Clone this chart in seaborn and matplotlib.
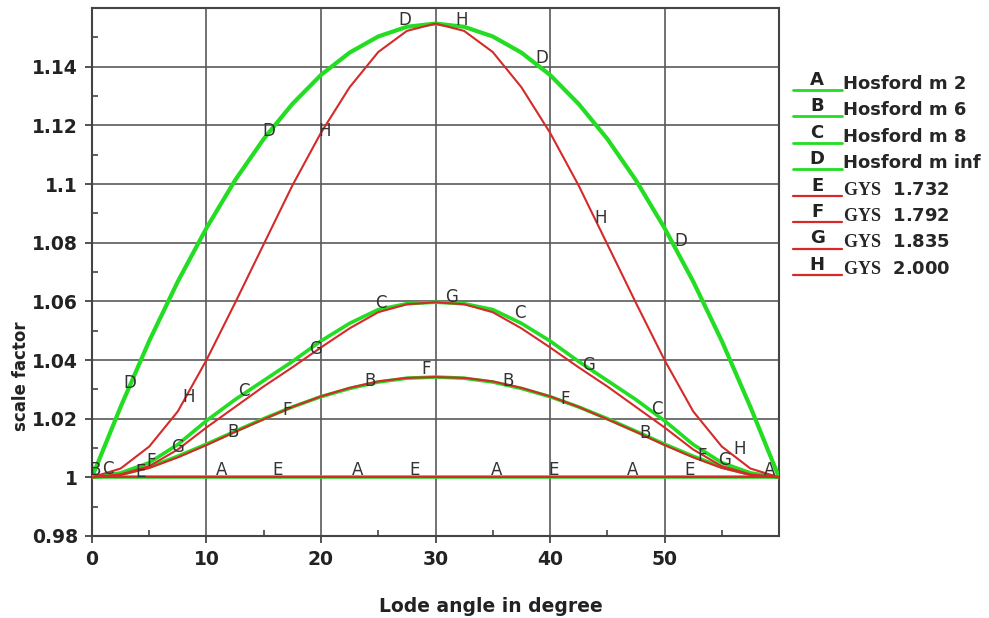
import numpy as np
import pandas as pd
import matplotlib
matplotlib.use('Agg')
import matplotlib.pyplot as plt
import seaborn as sns
from matplotlib.lines import Line2D
from matplotlib.text import Text
from matplotlib.ticker import FixedLocator, FuncFormatter

print("--- Generando gráfico de factor de escala ---")

# --- DATOS (cada 2.5 grados) ---
angulo = [0, 2.5, 5, 7.5, 10, 12.5, 15, 17.5, 20, 22.5, 25, 27.5, 30,
          32.5, 35, 37.5, 40, 42.5, 45, 47.5, 50, 52.5, 55, 57.5, 60]

hosford_m2 = [1.0, 1.0, 1.0, 1.0, 1.0, 1.0, 1.0, 1.0, 1.0, 1.0, 1.0, 1.0, 1.0,
              1.0, 1.0, 1.0, 1.0, 1.0, 1.0, 1.0, 1.0, 1.0, 1.0, 1.0, 1.0]
hosford_m6 = [1.000, 1.001, 1.0035, 1.0072, 1.0113, 1.0157, 1.0200, 1.0240, 1.0275, 1.0303, 1.0325, 1.0338, 1.0342,
              1.0338, 1.0325, 1.0303, 1.0275, 1.0240, 1.0200, 1.0157, 1.0113, 1.0072, 1.0035, 1.001, 1.000]
hosford_m8 = [1.000, 1.0015, 1.005, 1.0112, 1.0193, 1.0265, 1.0330, 1.0395, 1.0465, 1.0525, 1.0572, 1.0592, 1.0597,
              1.0592, 1.0572, 1.0525, 1.0465, 1.0395, 1.0330, 1.0265, 1.0193, 1.0112, 1.005, 1.0015, 1.000]
hosford_inf = [1.000, 1.024, 1.0465, 1.0668, 1.085, 1.1013, 1.1154, 1.1273, 1.1372, 1.1448, 1.1503, 1.1536, 1.1547,
               1.1536, 1.1503, 1.1448, 1.1372, 1.1273, 1.1154, 1.1013, 1.085, 1.0668, 1.0465, 1.024, 1.000]

gys_1732 = [1.0, 1.0, 1.0, 1.0, 1.0, 1.0, 1.0, 1.0, 1.0, 1.0, 1.0, 1.0, 1.0,
            1.0, 1.0, 1.0, 1.0, 1.0, 1.0, 1.0, 1.0, 1.0, 1.0, 1.0, 1.0]
gys_1792 = [1.000, 1.0008, 1.0032, 1.0068, 1.0110, 1.0155, 1.0198, 1.0240, 1.0276, 1.0305, 1.0327, 1.0339, 1.0342,
            1.0339, 1.0327, 1.0305, 1.0276, 1.0240, 1.0198, 1.0155, 1.0110, 1.0068, 1.0032, 1.0008, 1.000]
gys_1835 = [1.000, 1.001, 1.0038, 1.0095, 1.0170, 1.0240, 1.0310, 1.0375, 1.0443, 1.0508, 1.0563, 1.0590, 1.0597,
            1.0590, 1.0563, 1.0508, 1.0443, 1.0375, 1.0310, 1.0240, 1.0170, 1.0095, 1.0038, 1.001, 1.000]
gys_2000 = [1.000, 1.003, 1.0105, 1.0225, 1.040, 1.0595, 1.0795, 1.0995, 1.1175, 1.133, 1.145, 1.1522, 1.1547,
            1.1522, 1.145, 1.133, 1.1175, 1.0995, 1.0795, 1.0595, 1.040, 1.0225, 1.0105, 1.003, 1.000]

# Posiciones de las letras (x, y) sobre cada curva
marcas_A = [(11.3, 1.0026), (23.2, 1.0026), (35.3, 1.0026), (47.2, 1.0026), (59.2, 1.0026)]
marcas_B = [(0.3, 1.0026), (12.3, 1.0153), (24.3, 1.033), (36.3, 1.033), (48.3, 1.015)]
marcas_C = [(1.4, 1.003), (13.3, 1.0293), (25.2, 1.0593), (37.4, 1.0559), (49.3, 1.0234)]
marcas_D = [(3.3, 1.032), (15.4, 1.1182), (27.3, 1.1558), (39.3, 1.143), (51.4, 1.0805)]
marcas_E = [(4.2, 1.0017), (16.2, 1.0026), (28.2, 1.0026), (40.3, 1.0026), (52.2, 1.0026)]
marcas_F = [(5.2, 1.0057), (17.0, 1.0228), (29.2, 1.037), (41.3, 1.0268), (53.3, 1.0074)]
marcas_G = [(7.5, 1.0103), (19.5, 1.0439), (31.4, 1.0615), (43.4, 1.0382), (55.2, 1.006)]
marcas_H = [(8.4, 1.0273), (20.3, 1.118), (32.3, 1.1558), (44.4, 1.0884), (56.6, 1.0098)]

letras = ['A', 'B', 'C', 'D', 'E', 'F', 'G', 'H']
etiquetas = ['Hosford m 2', 'Hosford m 6', 'Hosford m 8', 'Hosford m inf',
             r'$\mathbf{GYS}$  1.732', r'$\mathbf{GYS}$  1.792',
             r'$\mathbf{GYS}$  1.835', r'$\mathbf{GYS}$  2.000']
series = [hosford_m2, hosford_m6, hosford_m8, hosford_inf,
          gys_1732, gys_1792, gys_1835, gys_2000]
marcas = [marcas_A, marcas_B, marcas_C, marcas_D, marcas_E, marcas_F, marcas_G, marcas_H]

verde = '#22dd22'
rojo = '#d42a2a'
colores = [verde] * 4 + [rojo] * 4
grosores = [2.6, 2.6, 2.6, 3.0, 1.5, 1.5, 1.5, 1.5]

# --- ESTILO ---
sns.set_theme(style='white')
plt.rcParams['font.family'] = ['DejaVu Sans']
plt.rcParams['mathtext.fontset'] = 'custom'
plt.rcParams['mathtext.bf'] = 'Liberation Serif:bold'
plt.rcParams['mathtext.rm'] = 'Liberation Serif'


class ManejadorLetra:
    """Dibuja en la leyenda una línea con la letra encima (estilo Origin)."""
    def __init__(self, letra, color, lw):
        self.letra = letra
        self.color = color
        self.lw = lw

    def legend_artist(self, legend, orig_handle, fontsize, handlebox):
        x0, y0 = -handlebox.xdescent, -handlebox.ydescent
        w = handlebox.width
        linea = Line2D([x0, x0 + w], [y0 - 1, y0 - 1], color=self.color, lw=self.lw)
        texto = Text(x0 + w / 2, y0, self.letra, ha='center', va='bottom',
                     fontsize=fontsize, color='#222222', fontweight='bold')
        handlebox.add_artist(linea)
        handlebox.add_artist(texto)
        return linea


fig = plt.figure(figsize=(9.89, 6.18), dpi=100)
ax = fig.add_axes([0.0930, 0.1327, 0.6947, 0.8543])

# --- CURVAS ---
for nombre, valores, color, lw in zip(etiquetas, series, colores, grosores):
    df = pd.DataFrame({'angulo': angulo, 'escala': valores})
    sns.lineplot(data=df, x='angulo', y='escala', color=color, linewidth=lw,
                 ax=ax, legend=False, zorder=3)

# --- LETRAS SOBRE LAS CURVAS ---
for letra, pos in zip(letras, marcas):
    for x, y in pos:
        ax.text(x, y, letra, ha='center', va='center', fontsize=12,
                color='#333333', zorder=5)

# --- EJES ---
ax.set_xlim(0, 60)
ax.set_ylim(0.98, 1.16)
ax.xaxis.set_major_locator(FixedLocator([0, 10, 20, 30, 40, 50]))
ax.xaxis.set_minor_locator(FixedLocator([5, 15, 25, 35, 45, 55]))
ax.yaxis.set_major_locator(FixedLocator([0.98, 1.0, 1.02, 1.04, 1.06, 1.08, 1.1, 1.12, 1.14]))
ax.yaxis.set_minor_locator(FixedLocator([0.99, 1.01, 1.03, 1.05, 1.07, 1.09, 1.11, 1.13, 1.15]))
ax.yaxis.set_major_formatter(FuncFormatter(lambda v, p: f'{v:.2f}'.rstrip('0').rstrip('.')))

ax.grid(True, which='major', color='#5a5a5a', linewidth=1.2, zorder=1)
for lado in ax.spines.values():
    lado.set_color('#444444')
    lado.set_linewidth(1.5)

ax.tick_params(which='major', direction='out', length=5, width=1.3, color='#444444',
               labelsize=13.5, labelcolor='#222222', pad=5, left=True, bottom=True)
ax.tick_params(which='minor', direction='in', length=4, width=1.2, color='#444444',
               left=True, bottom=True)
for etiqueta in ax.get_xticklabels() + ax.get_yticklabels():
    etiqueta.set_fontweight('bold')

ax.set_xlabel('Lode angle in degree', fontsize=13.5, fontweight='bold', color='#222222')
ax.set_ylabel('scale factor', fontsize=12, fontweight='bold', color='#222222')
ax.xaxis.set_label_coords(0.581, -0.115)
ax.yaxis.set_label_coords(-0.09, 0.303)

# --- LEYENDA ---
manijas = []
mapa = {}
for letra, color, lw in zip(letras, colores, [2, 2, 2, 2, 1.6, 1.6, 1.6, 1.6]):
    h = Line2D([], [], color=color)
    manijas.append(h)
    mapa[h] = ManejadorLetra(letra, color, lw)

ax.legend(manijas, etiquetas, handler_map=mapa, loc='upper left',
          bbox_to_anchor=(1.02, 0.874), frameon=False, borderpad=0, borderaxespad=0,
          prop={'weight': 'bold', 'size': 13}, handlelength=2.7, handletextpad=0.1,
          labelspacing=0.47)

fig.savefig('out.png', dpi=100)
print("💾 Gráfico 'out.png' guardado.")
